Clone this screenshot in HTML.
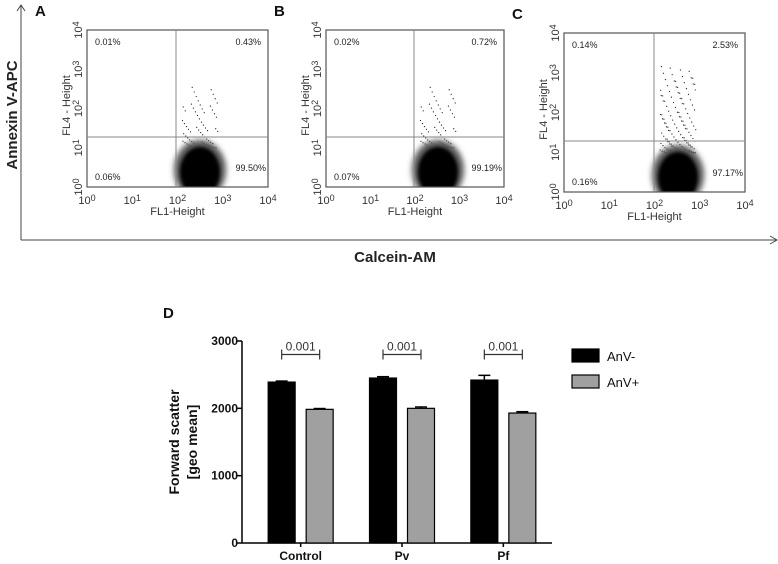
<!DOCTYPE html>
<html><head><meta charset="utf-8"><style>
body{margin:0;background:#fff;}
svg{display:block;font-family:"Liberation Sans",Arial,sans-serif;}
</style></head><body>
<svg id="fig" width="778" height="564" viewBox="0 0 778 564">
<defs>
<filter id="blur" x="-50%" y="-50%" width="200%" height="200%"><feGaussianBlur stdDeviation="1.5"/></filter>
<filter id="blur2" x="-50%" y="-50%" width="200%" height="200%"><feGaussianBlur stdDeviation="3"/></filter>
</defs>
<g>
<line x1="21" y1="240" x2="776" y2="240" stroke="#444" stroke-width="1"/>
<line x1="21" y1="6" x2="21" y2="240" stroke="#444" stroke-width="1"/>
<path d="M17,11 L21,5 L25,11" fill="none" stroke="#444"/>
<path d="M770,236 L777,240 L770,244" fill="none" stroke="#444"/>
<text x="395" y="262" font-size="15" font-weight="bold" fill="#222" text-anchor="middle">Calcein-AM</text>
<text transform="translate(17,115) rotate(-90)" font-size="15" font-weight="bold" fill="#222" text-anchor="middle">Annexin V-APC</text>
</g>
<g id="panels"></g>
<g id="bars"></g>
</svg>
<script>
const NS="http://www.w3.org/2000/svg";
function mk(tag,attrs,parent,txt){const e=document.createElementNS(NS,tag);for(const k in attrs)e.setAttribute(k,attrs[k]);if(txt!==undefined)e.textContent=txt;parent.appendChild(e);return e;}

// ---------- scatter panels ----------
const panelLetters=["A","B","C"];
const panelQuads=[["0.01%","0.43%","0.06%","99.50%"],["0.02%","0.72%","0.07%","99.19%"],["0.14%","2.53%","0.16%","97.17%"]];
const panelBoxes=[[87,30,268,187,176,137],[326,30,504,187,414,137],[564,33,745,192,654,141]];
const pg=document.getElementById('panels');
panelBoxes.forEach((b,i)=>{
  const [x0,y0,x1,y1,gx,gy]=b;
  const g=mk('g',{},pg);
  
  
  const L=mk('text',{x:x0-52,y:y0-14,'font-size':15,'font-weight':'bold',fill:'#111'},g,panelLetters[i]);
  
  
  const cid='clip'+i;
  const cp=mk('clipPath',{id:cid},g);mk('rect',{x:x0,y:y0,width:x1-x0,height:y1-y0},cp);
  const cg=mk('g',{'clip-path':'url(#'+cid+')'},g);
  const cx=gx+24, cy=y1-17;
  const sp=(i===2)?1.4:1;
  const n=(i===2)?140:70;
  for(let k=1;k<=n;k++){
    const u=(k*0.618034)%1, v=(k*0.754878)%1;
    const dx=(u-0.5)*36, dy=-(v*v)*62*sp-22;
    mk('circle',{cx:cx+dx,cy:cy+dy,r:0.6,fill:'#222'},cg);
  }
  mk('ellipse',{cx:cx,cy:cy,rx:26,ry:30,fill:'#555',filter:'url(#blur2)'},cg);
  const c2=mk('ellipse',{cx:cx,cy:cy+2,rx:20,ry:25,fill:'#000',filter:'url(#blur)'},cg);
  
  
  mk('rect',{x:x0,y:y0,width:x1-x0,height:y1-y0,fill:'none',stroke:'#555','stroke-width':1.2},g);
  mk('line',{x1:gx,y1:y0,x2:gx,y2:y1,stroke:'#888','stroke-width':1},g);
  mk('line',{x1:x0,y1:gy,x2:x1,y2:gy,stroke:'#888','stroke-width':1},g);
  const q=panelQuads[i];
  [[x0+8,y0+15,'start',q[0]],[x1-7,y0+15,'end',q[1]],[x0+8,y1-7,'start',q[2]],[x1-2,y1-16,'end',q[3]]].forEach(t=>{
    const e=mk('text',{x:t[0],y:t[1],'font-size':9,fill:'#222','text-anchor':t[2]},g,t[3]);
    
    
  });
  for(let d=0;d<=4;d++){
    const tx=x0+(x1-x0)*d/4;
    const e=mk('text',{x:tx,y:y1+17,'font-size':11,fill:'#333','text-anchor':'middle'},g);
    
    
    e.innerHTML='10<tspan dy="-3" font-size="9">'+d+'</tspan>';
    const ty=y1-(y1-y0)*d/4;
    const f=mk('text',{transform:'translate('+(x0-5)+','+ty+') rotate(-90)','font-size':11,fill:'#333','text-anchor':'middle'},g);
    
    
    f.innerHTML='10<tspan dy="-3" font-size="9">'+d+'</tspan>';
  }
  const xt=mk('text',{x:(x0+x1)/2,y:y1+28,'font-size':11,fill:'#333','text-anchor':'middle'},g,'FL1-Height');
  
  
  const yt=mk('text',{transform:'translate('+(x0-17)+','+((y0+y1)/2-3)+') rotate(-90)','font-size':11,fill:'#333','text-anchor':'middle'},g,'FL4 - Height');
  
  
});

// ---------- bar chart D ----------
const categories=["Control","Pv","Pf"];
const anvNeg=[2390,2450,2420];
const anvNegErr=[15,20,70];
const anvPos=[1985,2000,1930];
const anvPosErr=[12,20,20];
const pValues=["0.001","0.001","0.001"];
const yTicks=[0,1000,2000,3000];
const bg=document.getElementById('bars');
const X0=242,X1=552,Y0=543,Y1=341,YMAX=3000;
const yS=v=>Y0-(v/YMAX)*(Y0-Y1);
const band=(X1-X0-6)/categories.length;
const xC=i=>X0+8+band*(i+0.5);
const BW=27,GAP=11;
const t=mk('text',{x:163,y:318,'font-size':15,'font-weight':'bold',fill:'#111'},bg,'D');


const ya=mk('line',{x1:X0,y1:Y0,x2:X0,y2:Y1,stroke:'#000','stroke-width':1.5},bg);


const xa=mk('line',{x1:X0,y1:Y0,x2:X1,y2:Y0,stroke:'#000','stroke-width':1.5},bg);


yTicks.forEach(v=>{
  mk('line',{x1:X0-5,y1:yS(v),x2:X0,y2:yS(v),stroke:'#000','stroke-width':1.5},bg);
  const e=mk('text',{x:X0-4,y:yS(v)+4,'font-size':12,'font-weight':'bold','text-anchor':'end',fill:'#111'},bg,v);
  
  
});
const yl=mk('text',{transform:'translate(179,442) rotate(-90)','font-size':14,'font-weight':'bold','text-anchor':'middle',fill:'#111'},bg,'Forward scatter');


const yl2=mk('text',{transform:'translate(197,442) rotate(-90)','font-size':14,'font-weight':'bold','text-anchor':'middle',fill:'#111'},bg,'[geo mean]');


function bar(x,v,err,fill,name){
  const r=mk('rect',{x:x,y:yS(v),width:BW,height:Y0-yS(v),fill:fill,stroke:'#000','stroke-width':1.2},bg);
  
  
  mk('line',{x1:x+BW/2,y1:yS(v),x2:x+BW/2,y2:yS(v+err),stroke:'#000','stroke-width':1.5},bg);
  mk('line',{x1:x+BW/2-6,y1:yS(v+err),x2:x+BW/2+6,y2:yS(v+err),stroke:'#000','stroke-width':1.5},bg);
}
categories.forEach((c,i)=>{
  const cx=xC(i);
  const bx1=cx-GAP/2-BW, bx2=cx+GAP/2;
  bar(bx1,anvNeg[i],anvNegErr[i],'#000','bar-anv-neg-'+c.toLowerCase());
  bar(bx2,anvPos[i],anvPosErr[i],'#a0a0a0','bar-anv-pos-'+c.toLowerCase());
  mk('line',{x1:cx,y1:Y0,x2:cx,y2:Y0+4,stroke:'#000','stroke-width':1.5},bg);
  const e=mk('text',{x:cx,y:Y0+17,'font-size':12,'font-weight':'bold','text-anchor':'middle',fill:'#111'},bg,c);
  
  
  const by=yS(2800);
  const l=bx1+BW/2, r=bx2+BW/2;
  const br=mk('path',{d:`M${l},${by-5}V${by+5}M${l},${by}H${r}M${r},${by-5}V${by+5}`,fill:'none',stroke:'#333','stroke-width':1.2},bg);
  
  
  const p=mk('text',{x:cx,y:by-4,'font-size':12,'text-anchor':'middle',fill:'#333'},bg,pValues[i]);
  
  
});
const legend=[["AnV-","#000"],["AnV+","#a0a0a0"]];
legend.forEach((l,i)=>{
  const g=mk('g',{},bg);
  
  
  mk('rect',{x:572,y:349+i*26,width:27,height:13,fill:l[1],stroke:'#000','stroke-width':1.2},g);
  mk('text',{x:607,y:361+i*26,'font-size':13,fill:'#111'},g,l[0]);
});
</script>
</body></html>
